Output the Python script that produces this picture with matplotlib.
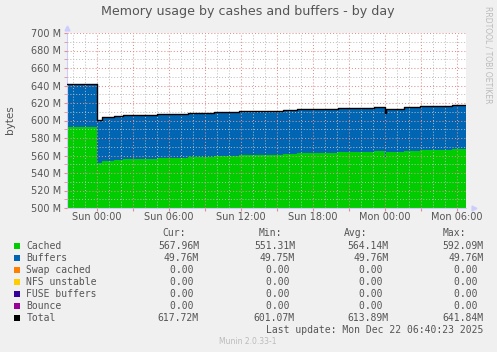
import matplotlib
matplotlib.use('Agg')
import matplotlib.pyplot as plt
from matplotlib.patches import Rectangle
from matplotlib.ticker import MultipleLocator, FixedLocator

# hours relative to Sun 00:00, values in MB
hours = [-2.5, 0.0, 0.4, 1.4, 2.2, 5.0, 7.6, 9.75, 11.8, 15.5, 16.7, 20.1,
         23.1, 24.0, 24.1, 25.6, 26.9, 29.6, 30.75]
cached = [592.09, 551.31, 553.7, 554.9, 556.4, 557.5, 558.6, 559.8, 560.6,
          562.0, 563.2, 564.3, 565.1, 558.6, 563.6, 565.1, 566.3, 567.96, 567.96]
buffers = [49.75, 49.76, 49.76, 49.76, 49.76, 49.76, 49.76, 49.76, 49.76,
           49.76, 49.76, 49.76, 49.76, 49.76, 49.76, 49.76, 49.76, 49.76, 49.76]

tick_hours = [0, 6, 12, 18, 24, 30]
tick_labels = ['Sun 00:00', 'Sun 06:00', 'Sun 12:00', 'Sun 18:00', 'Mon 00:00', 'Mon 06:00']

legend_names = ['Cached', 'Buffers', 'Swap cached', 'NFS unstable', 'FUSE buffers', 'Bounce', 'Total']
legend_colors = ['#00CC00', '#0066B3', '#FF8000', '#FFCC00', '#330099', '#990099', '#000000']
cur = ['567.96M', '49.76M', '0.00 ', '0.00 ', '0.00 ', '0.00 ', '617.72M']
mins = ['551.31M', '49.75M', '0.00 ', '0.00 ', '0.00 ', '0.00 ', '601.07M']
avgs = ['564.14M', '49.76M', '0.00 ', '0.00 ', '0.00 ', '0.00 ', '613.89M']
maxs = ['592.09M', '49.76M', '0.00 ', '0.00 ', '0.00 ', '0.00 ', '641.84M']

W, H = 497, 352
BG = '#F0F0F0'
TXT = '#555555'

fig = plt.figure(figsize=(W / 100, H / 100), dpi=100, facecolor=BG)


def fx(x):
    return x / W


def fy(y):
    return 1 - y / H


ax = fig.add_axes([fx(67), fy(208), fx(466 - 67), (208 - 33) / H])
ax.set_facecolor('white')

total = [c + b for c, b in zip(cached, buffers)]
ax.fill_between(hours, 0, cached, step='post', color=legend_colors[0], linewidth=0, zorder=1)
ax.fill_between(hours, cached, total, step='post', color=legend_colors[1], linewidth=0, zorder=1)
ax.plot(hours, total, drawstyle='steps-post', color='black', linewidth=1.0, zorder=3)

ax.set_xlim(-2.5, 30.75)
ax.set_ylim(500, 700)

# grid: rrdtool draws it over the data
ax.set_axisbelow(False)
ax.yaxis.set_major_locator(MultipleLocator(20))
ax.yaxis.set_minor_locator(MultipleLocator(10))
ax.xaxis.set_major_locator(FixedLocator([h for h in range(-2, 31) if h % 3 == 0]))
ax.xaxis.set_minor_locator(MultipleLocator(1))
ax.grid(which='major', color='#E09090', linestyle=(0, (1, 2)), linewidth=0.75, zorder=2.5)
ax.grid(which='minor', color='#BBBBBB', linestyle=(0, (1, 2)), linewidth=0.7, zorder=2.5)

ax.set_yticklabels([f'{v:.0f} M' for v in ax.get_yticks()])
ax.set_xticklabels([])
for h, lab in zip(tick_hours, tick_labels):
    ax.text(h, -0.05, lab, transform=ax.get_xaxis_transform(), ha='center', va='center',
            fontsize=7, color=TXT)

ax.tick_params(axis='y', which='both', length=2, color='#E09090', labelsize=7, labelcolor=TXT, pad=2)
ax.tick_params(axis='x', which='major', length=2, color='#E09090')
ax.tick_params(axis='x', which='minor', length=0)

for s in ['top', 'right']:
    ax.spines[s].set_visible(False)
for s in ['left', 'bottom']:
    ax.spines[s].set_color('#CCCCFF')
    ax.spines[s].set_linewidth(0.8)
ax.plot([0], [1.03], marker='^', markersize=3.5, color='#CCCCFF', transform=ax.transAxes, clip_on=False)
ax.plot([1.02], [0], marker='>', markersize=3.5, color='#CCCCFF', transform=ax.transAxes, clip_on=False)

fig.text(fx(248), fy(12), 'Memory usage by cashes and buffers - by day', ha='center', va='center',
         fontsize=9.1, color=TXT)
fig.text(fx(10), fy(120), 'bytes', rotation=90, ha='center', va='center', fontsize=7.5, color=TXT)
fig.text(fx(488), fy(6), 'RRDTOOL / TOBI OETIKER', rotation=270, ha='center', va='top',
         fontsize=5.5, color='#BBBBBB')

# legend block
mono = dict(family='DejaVu Sans Mono', fontsize=7, color=TXT)
fig.text(fx(174), fy(233.3), 'Cur:', ha='center', va='center', **mono)
fig.text(fx(270), fy(233.3), 'Min:', ha='center', va='center', **mono)
fig.text(fx(356), fy(233.3), 'Avg:', ha='center', va='center', **mono)
fig.text(fx(454), fy(233.3), 'Max:', ha='center', va='center', **mono)

for i, name in enumerate(legend_names):
    yc = 245.7 + 12 * i
    fig.add_artist(Rectangle((fx(14), fy(yc + 3)), 6 / W, 6 / H, transform=fig.transFigure,
                             facecolor=legend_colors[i], edgecolor='none'))
    fig.text(fx(26.5), fy(yc), name, ha='left', va='center', **mono)
    fig.text(fx(199), fy(yc), cur[i], ha='right', va='center', **mono)
    fig.text(fx(295), fy(yc), mins[i], ha='right', va='center', **mono)
    fig.text(fx(388.5), fy(yc), avgs[i], ha='right', va='center', **mono)
    fig.text(fx(483.5), fy(yc), maxs[i], ha='right', va='center', **mono)

fig.text(fx(483.5), fy(330), 'Last update: Mon Dec 22 06:40:23 2025', ha='right', va='center', **mono)
fig.text(fx(248), fy(341), 'Munin 2.0.33-1', ha='center', va='center', fontsize=5.5, color='#BBBBBB')

fig.savefig('out.png', dpi=100, facecolor=BG)
